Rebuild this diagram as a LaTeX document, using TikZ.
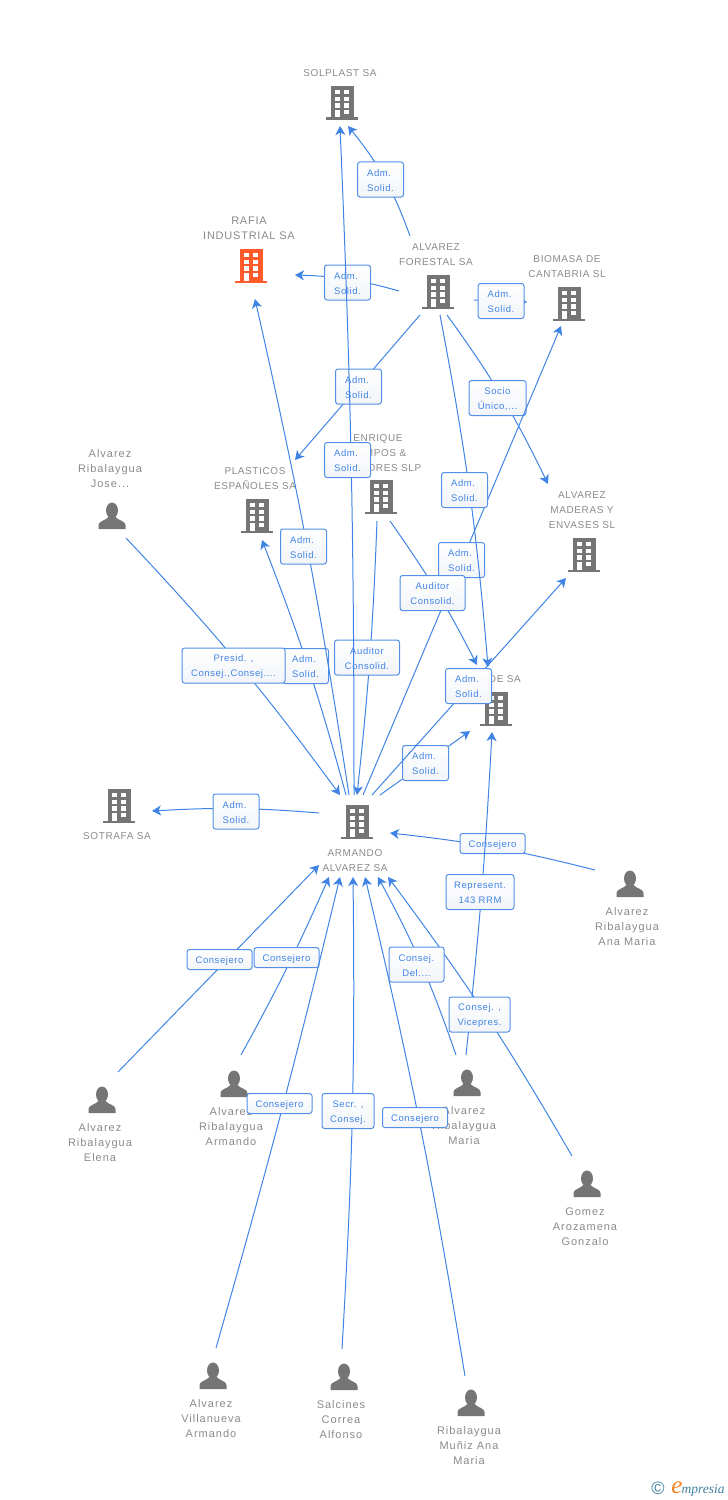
\documentclass[tikz,border=0pt]{standalone}
\usepackage{fontspec}
\usepackage{xcolor}
\usetikzlibrary{arrows.meta}
\setmainfont{Liberation Sans}
\newfontfamily\nameFont{Liberation Sans}[LetterSpace=6]
\newfontfamily\mainNameFont{Liberation Sans}[LetterSpace=7]
\newfontfamily\personFont{Liberation Sans}[LetterSpace=9]
\newfontfamily\labelFont{Liberation Sans}[LetterSpace=6]
\newfontfamily\logoFont{Liberation Serif}
\definecolor{iconColor}{HTML}{757575}
\definecolor{mainIconColor}{HTML}{FF5A2B}
\definecolor{nameTextColor}{HTML}{8A8A8A}
\definecolor{linkColor}{HTML}{3F84E5}
\definecolor{labelBgColor}{HTML}{F2F4F8}
\definecolor{logoColor}{HTML}{3E7F9E}
\definecolor{logoEColor}{HTML}{F58220}
\tikzset{
  building/.style={rectangle, minimum size=36bp, inner sep=0pt, path picture={
    \begin{scope}[shift={(path picture bounding box.center)}]
    \fill[#1] (-11,-17) rectangle (11.5,15.5);
    \fill[#1] (-16,14.5) rectangle (16,17);
    \foreach \rowY in {-13,-6.4,0.3} {
      \fill[white] (-7,\rowY) rectangle (-2.5,\rowY+4.4);
      \fill[white] (2.4,\rowY) rectangle (7,\rowY+4.4);
    }
    \fill[white] (-7,7) rectangle (-2.5,14.5);
    \fill[white] (2.4,7) rectangle (7,11.4);
    \end{scope}}},
  building/.default=iconColor,
  person/.style={rectangle, minimum size=30bp, inner sep=0pt, path picture={
    \begin{scope}[shift={(path picture bounding box.center)}]
    \fill[iconColor] (0,-5.5) ellipse (6 and 8);
    \fill[iconColor] (-13.5,13) -- (-13.5,9) .. controls (-13.5,5) and (-7,5) .. (-3.5,1)
      -- (3.5,1) .. controls (7,5) and (13.5,5) .. (13.5,9) -- (13.5,13) -- cycle;
    \end{scope}}},
  nameText/.style={align=center, inner sep=0pt, yshift=-.7bp, text=nameTextColor,
    font=\nameFont\fontsize{10bp}{15bp}\selectfont},
  mainName/.style={nameText, font=\mainNameFont\fontsize{11bp}{15bp}\selectfont},
  personName/.style={nameText, font=\personFont\fontsize{11bp}{15bp}\selectfont},
  link/.style={draw=linkColor, line width=1bp},
  arrowLink/.style={link, -{Stealth[length=9bp,width=10bp,inset=2.5bp]}},
  edgeLabel/.style={rectangle, rounded corners=2.5bp, draw=linkColor!90, line width=1bp,
    top color=white, bottom color=labelBgColor, text=linkColor, align=center, inner sep=0pt,
    minimum height=35bp, text height=24bp, font=\labelFont\fontsize{9.5bp}{15bp}\selectfont},
  admLabel/.style={edgeLabel, align=left, minimum width=46bp},
  lineLabel/.style={edgeLabel, minimum height=20bp, text height=9bp, minimum width=65bp},
}
\begin{document}
\begin{tikzpicture}[x=1bp,y=-1bp]
\useasboundingbox (0,0) rectangle (728,1500);

% company layer
\node[building] (solplast) at (342,103) {};
\node[nameText] (solplastName) at (340,72) {SOLPLAST SA};
\node[building=mainIconColor] (rafia) at (251,266) {};
\node[mainName] (rafiaName) at (249,227.5) {RAFIA\\INDUSTRIAL SA};
\node[building] (forestal) at (438,292) {};
\node[nameText] (forestalName) at (436,253.5) {ALVAREZ\\FORESTAL SA};
\node[building] (biomasa) at (569,304) {};
\node[nameText] (biomasaName) at (567,265.5) {BIOMASA DE\\CANTABRIA SL};
\node[building] (plasticos) at (257,516) {};
\node[nameText] (plasticosName) at (255,477.5) {PLASTICOS\\ESPAÑOLES SA};
\node[building] (enrique) at (381,497) {};
\node[nameText] (enriqueName) at (378,452) {ENRIQUE\\CAMPOS \&\\AUDITORES SLP};
\node[building] (maderas) at (584,555) {};
\node[nameText] (maderasName) at (582,509) {ALVAREZ\\MADERAS Y\\ENVASES  SL};
\node[building] (deSa) at (496,709) {};
\node[nameText, anchor=east] (deSaName) at (521,678) {DE SA};
\node[building] (sotrafa) at (119,806) {};
\node[nameText] (sotrafaName) at (117,835) {SOTRAFA SA};
\node[building] (armando) at (357,822) {};
\node[nameText] (armandoName) at (355,859.5) {ARMANDO\\ALVAREZ SA};

% person layer
\node[person] (jose) at (112,516) {};
\node[personName] (joseName) at (110,468) {Alvarez\\Ribalaygua\\Jose...};
\node[person] (anaMaria) at (630,884) {};
\node[personName] (anaMariaName) at (627,926) {Alvarez\\Ribalaygua\\Ana Maria};
\node[person] (elena) at (102,1100) {};
\node[personName] (elenaName) at (100,1142) {Alvarez\\Ribalaygua\\Elena};
\node[person] (armandoRib) at (234,1084) {};
\node[personName] (armandoRibName) at (231,1126) {Alvarez\\Ribalaygua\\Armando};
\node[person] (maria) at (467,1083) {};
\node[personName] (mariaName) at (464,1125) {Alvarez\\Ribalaygua\\Maria};
\node[person] (gonzalo) at (587,1184) {};
\node[personName] (gonzaloName) at (585,1226) {Gomez\\Arozamena\\Gonzalo};
\node[person] (villanueva) at (213,1376) {};
\node[personName] (villanuevaName) at (211,1418) {Alvarez\\Villanueva\\Armando};
\node[person] (salcines) at (344,1377) {};
\node[personName] (salcinesName) at (341,1419) {Salcines\\Correa\\Alfonso};
\node[person] (munoz) at (471,1403) {};
\node[personName] (munozName) at (469,1445) {Ribalaygua\\Muñiz Ana\\Maria};

% link layer
\draw[arrowLink] ([shift={(-39,-1)}]forestal.center) to[bend right=7] ([shift={(44,9)}]rafia.center)
  node[admLabel] (forestalRafia) at (347.5,282.5) {Adm.\\Solid.};
\draw[arrowLink] ([shift={(-18,23)}]forestal.center) -- ([shift={(38,-56)}]plasticos.center)
  node[admLabel] (forestalPlasticos) at (358.5,386.5) {Adm.\\Solid.};
\draw[arrowLink] ([shift={(-28,-56)}]forestal.center) to[bend right=9.5] ([shift={(6,23)}]solplast.center)
  node[admLabel] (forestalSolplast) at (380.5,179.5) {Adm.\\Solid.};
\draw[arrowLink] ([shift={(36,8)}]forestal.center) -- ([shift={(-42,-2)}]biomasa.center)
  node[admLabel] (forestalBiomasa) at (501,301) {Adm.\\Solid.};
\draw[arrowLink] ([shift={(9,23)}]forestal.center) to[bend left=5] ([shift={(-36,-71)}]maderas.center)
  node[edgeLabel, minimum width=57bp] (forestalMaderas) at (497.5,398) {Socio\\Único,...};
\draw[arrowLink] ([shift={(6,-27)}]armando.center) -- ([shift={(-8,22)}]biomasa.center)
  node[admLabel] (armandoBiomasa) at (461.5,560) {Adm.\\Solid.};
\draw[arrowLink] ([shift={(9,24)}]enrique.center) to[bend left=4] ([shift={(-19,-44)}]deSa.center)
  node[edgeLabel, minimum width=65bp] (enriqueDeSa) at (432.5,593) {Auditor\\Consolid.};
\draw[arrowLink] ([shift={(2,23)}]forestal.center) to[bend left=3] ([shift={(-8,-42)}]deSa.center)
  node[admLabel] (forestalDeSa) at (464.5,490) {Adm.\\Solid.};
\draw[arrowLink] ([shift={(-4,24)}]enrique.center) to[bend left=2] ([shift={(0,-27)}]armando.center)
  node[edgeLabel, minimum width=65bp] (enriqueArmando) at (367,657.5) {Auditor\\Consolid.};
\draw[arrowLink] ([shift={(-11,-27)}]armando.center) to[bend right=3] ([shift={(5,24)}]plasticos.center)
  node[admLabel] (armandoPlasticos) at (305.5,666) {Adm.\\Solid.};
\draw[arrowLink] ([shift={(-8,-27)}]armando.center) to[bend right=2] ([shift={(4,33)}]rafia.center)
  node[admLabel] (armandoRafia) at (303.5,546.5) {Adm.\\Solid.};
\draw[arrowLink] ([shift={(14,22)}]jose.center) to[bend left=3.5] ([shift={(-17,-27)}]armando.center)
  node[edgeLabel, minimum width=103bp] (joseArmando) at (233.5,665.5) {Presid. ,\\Consej.,Consej....};
\draw[arrowLink] ([shift={(-3,-27)}]armando.center) to[bend right=1.2] ([shift={(-2,23)}]solplast.center)
  node[admLabel] (armandoSolplast) at (347.5,460) {Adm.\\Solid.};
\draw[arrowLink] ([shift={(23,-27)}]armando.center) -- ([shift={(-26,22)}]deSa.center)
  node[admLabel] (armandoDeSa) at (425.5,763) {Adm.\\Solid.};
\draw[arrowLink] ([shift={(15,-27)}]armando.center) -- ([shift={(-18,23)}]maderas.center)
  node[admLabel] (armandoMaderas) at (468.5,686) {Adm.\\Solid.};
\draw[arrowLink] ([shift={(-38,-9)}]armando.center) to[bend right=4] ([shift={(33,5)}]sotrafa.center)
  node[admLabel] (armandoSotrafa) at (236,811.5) {Adm.\\Solid.};
\draw[arrowLink] ([shift={(-35,-14)}]anaMaria.center) to[bend right=4] ([shift={(33,11)}]armando.center)
  node[lineLabel] (anaMariaArmando) at (492.5,843.5) {Consejero};
\draw[arrowLink] ([shift={(-1,-28)}]maria.center) to[bend right=1.5] ([shift={(-4,23)}]deSa.center)
  node[edgeLabel, minimum width=68bp] (mariaDeSa) at (480,892) {Represent.\\143 RRM};
\draw[arrowLink] ([shift={(-15,-28)}]gonzalo.center) to[bend right=3.3] ([shift={(31,55)}]armando.center)
  node[edgeLabel, minimum width=61bp] (gonzaloArmando) at (479.5,1014.5) {Consej. ,\\Vicepres.};
\draw[arrowLink] ([shift={(-11,-28)}]maria.center) to[bend right=4.6] ([shift={(21,55)}]armando.center)
  node[edgeLabel, minimum width=55bp] (mariaArmando) at (416.5,964.5) {Consej.\\Del....};
\draw[arrowLink] ([shift={(16,-28)}]elena.center) -- ([shift={(-38,43)}]armando.center)
  node[lineLabel] (elenaArmando) at (219.5,959.5) {Consejero};
\draw[arrowLink] ([shift={(7,-29)}]armandoRib.center) to[bend right=2.5] ([shift={(-28,55)}]armando.center)
  node[lineLabel] (armandoRibArmando) at (286.5,957.5) {Consejero};
\draw[arrowLink] ([shift={(3,-28)}]villanueva.center) to[bend right=1.2] ([shift={(-17,55)}]armando.center)
  node[lineLabel] (villanuevaArmando) at (279.5,1103.5) {Consejero};
\draw[arrowLink] ([shift={(-2,-28)}]salcines.center) to[bend right=2] ([shift={(-4,55)}]armando.center)
  node[edgeLabel, minimum width=52bp] (salcinesArmando) at (348,1111) {Secr. ,\\Consej.};
\draw[arrowLink] ([shift={(-6,-27)}]munoz.center) to[bend right=2] ([shift={(8,55)}]armando.center)
  node[lineLabel] (munozArmando) at (415,1117.5) {Consejero};

% logo
\node[inner sep=0pt, text=logoColor, font=\fontsize{18bp}{18bp}\selectfont] (logoC) at (658,1488.5) {©};
\node[inner sep=0pt, text=logoEColor, font=\logoFont\itshape\fontsize{25bp}{25bp}\selectfont] (logoE) at (677,1487.5) {e};
\node[inner sep=0pt, anchor=west, text=logoColor, font=\logoFont\itshape\fontsize{13.5bp}{14bp}\selectfont] (logoText) at (681.5,1490) {mpresia};
\end{tikzpicture}
\end{document}
